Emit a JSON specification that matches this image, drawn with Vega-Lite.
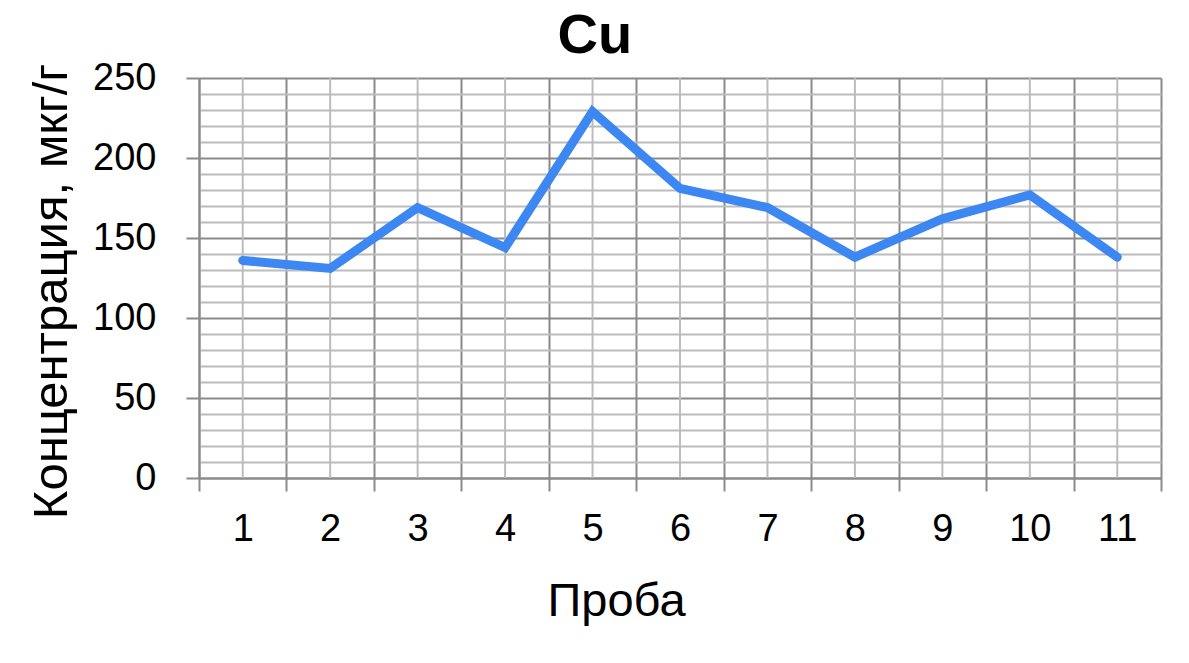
{
  "$schema": "https://vega.github.io/schema/vega-lite/v6.json",
  "width": 962,
  "height": 400,
  "padding": {"left": 27, "top": 8, "right": 20, "bottom": 5},
  "background": "white",
  "title": {
    "text": "Cu",
    "font": "Liberation Sans",
    "fontSize": 56,
    "fontWeight": "bold",
    "color": "black",
    "anchor": "middle",
    "frame": "bounds",
    "offset": -6
  },
  "config": {
    "view": {"stroke": null},
    "axis": {"labelFont": "Liberation Sans", "titleFont": "Liberation Sans", "labelColor": "black", "titleColor": "black", "titleFontWeight": "normal"}
  },
  "data": {
    "values": [
      {"probe": "1", "value": 136},
      {"probe": "2", "value": 131},
      {"probe": "3", "value": 169},
      {"probe": "4", "value": 144},
      {"probe": "5", "value": 229},
      {"probe": "6", "value": 181},
      {"probe": "7", "value": 169},
      {"probe": "8", "value": 138},
      {"probe": "9", "value": 162},
      {"probe": "10", "value": 177},
      {"probe": "11", "value": 138}
    ]
  },
  "encoding": {
    "x": {
      "field": "probe",
      "type": "ordinal",
      "sort": null,
      "scale": {"type": "band", "paddingInner": 0, "paddingOuter": 0},
      "axis": {
        "title": "Проба",
        "titleFontSize": 47,
        "titlePadding": 30,
        "titleX": 417,
        "titleAlign": "center",
        "labelAngle": 0,
        "labelFontSize": 38,
        "labelPadding": 19,
        "tickBand": "extent",
        "grid": true,
        "gridColor": "#8a8a8a",
        "gridWidth": 2,
        "tickColor": "#8a8a8a",
        "tickWidth": 2,
        "tickSize": 13,
        "domainColor": "#8a8a8a",
        "domainWidth": 2
      }
    }
  },
  "layer": [
    {
      "mark": {"type": "rule", "color": "#bcbcbc", "strokeWidth": 2},
      "encoding": {}
    },
    {
      "mark": {"type": "line", "color": "#3d87f2", "strokeWidth": 9, "strokeCap": "round", "strokeJoin": "miter"},
      "encoding": {
        "y": {
          "field": "value",
          "type": "quantitative",
          "scale": {"domain": [0, 250], "nice": false, "zero": true},
          "axis": {
            "title": "Концентрация, мкг/г",
            "titleFontSize": 49,
            "titlePadding": 16,
            "titleY": 213,
            "labelFontSize": 38,
            "labelPadding": 30,
            "values": [0,10,20,30,40,50,60,70,80,90,100,110,120,130,140,150,160,170,180,190,200,210,220,230,240,250],
            "labelExpr": "datum.value % 50 === 0 ? datum.label : ''",
            "grid": true,
            "gridColor": {"condition": {"test": "datum.value % 50 === 0", "value": "#8a8a8a"}, "value": "#bcbcbc"},
            "gridWidth": 2,
            "tickColor": {"condition": {"test": "datum.value % 50 === 0", "value": "#8a8a8a"}, "value": "transparent"},
            "tickWidth": 2,
            "tickSize": 13,
            "domainColor": "#8a8a8a",
            "domainWidth": 2
          }
        }
      }
    }
  ]
}
